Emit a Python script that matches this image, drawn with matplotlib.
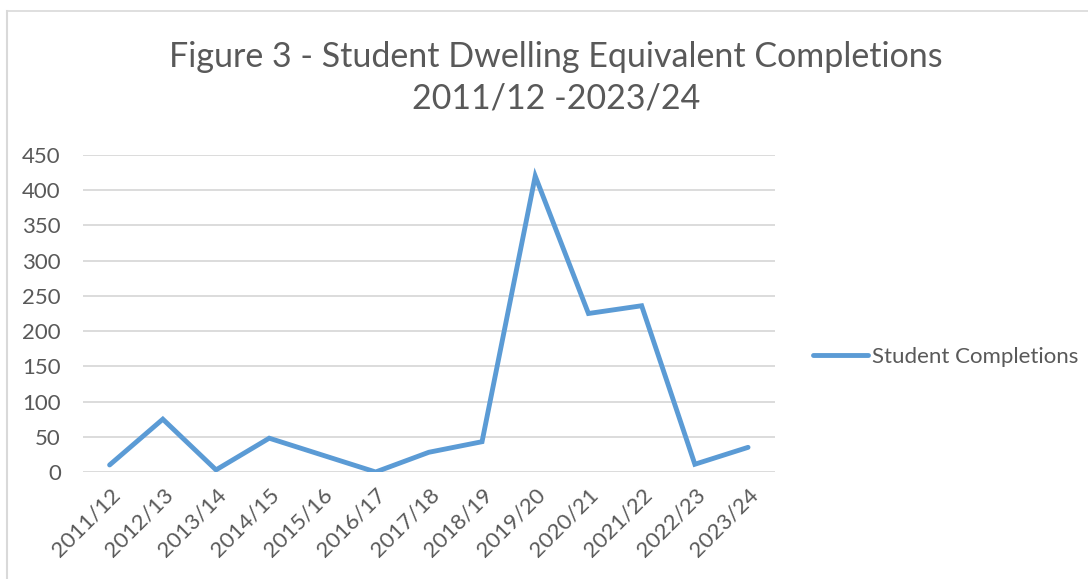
import matplotlib

matplotlib.use("Agg")
import matplotlib.pyplot as plt
from matplotlib.lines import Line2D

YEARS = [
    "2011/12", "2012/13", "2013/14", "2014/15", "2015/16", "2016/17", "2017/18",
    "2018/19", "2019/20", "2020/21", "2021/22", "2022/23", "2023/24",
]
COMPLETIONS = [10, 75, 3, 48, 24, 0, 28, 43, 420, 225, 236, 11, 35]
Y_TICKS = [0, 50, 100, 150, 200, 250, 300, 350, 400, 450]

BLUE = "#5b9bd5"
TEXT = "#595959"
GRID = "#d9d9d9"

plt.rcParams["font.family"] = ["Lato", "DejaVu Sans"]

fig = plt.figure(figsize=(10.88, 5.79), dpi=100)
ax = fig.add_axes((0.0763, 0.1848, 0.6357, 0.5475))

x = list(range(len(YEARS)))
ax.plot(x, COMPLETIONS, color=BLUE, linewidth=3.5, solid_joinstyle="miter",
        solid_capstyle="round", label="Student Completions")

ax.set_xlim(-0.5, len(YEARS) - 0.5)
ax.set_ylim(0, 450)
ax.set_yticks(Y_TICKS)
ax.set_xticks(x)
ax.set_xticklabels(YEARS, rotation=45, ha="right", rotation_mode="anchor")
ax.grid(True, axis="y", color=GRID, linewidth=1.3)
ax.set_axisbelow(True)
for side in ax.spines.values():
    side.set_visible(False)
ax.tick_params(axis="both", length=0, labelsize=16, colors=TEXT)
ax.tick_params(axis="y", pad=16)
ax.tick_params(axis="x", pad=9)

fig.text(0.511, 0.93, "Figure 3 - Student Dwelling Equivalent Completions\n2011/12 -2023/24",
         ha="center", va="top", fontsize=24.5, color=TEXT, linespacing=1.4)

fig.legend(loc="center left", bbox_to_anchor=(0.747, 0.383), frameon=False,
           borderpad=0, borderaxespad=0, fontsize=16, handlelength=2.5,
           handletextpad=0.15, labelcolor=TEXT)

# light outer chart border (left and top edges visible)
fig.add_artist(Line2D([7 / 1088, 7 / 1088], [0, 1 - 11 / 579], color=GRID, linewidth=1.5))
fig.add_artist(Line2D([7 / 1088, 1], [1 - 11 / 579, 1 - 11 / 579], color=GRID, linewidth=1.2))

fig.savefig("out.png", dpi=100)
